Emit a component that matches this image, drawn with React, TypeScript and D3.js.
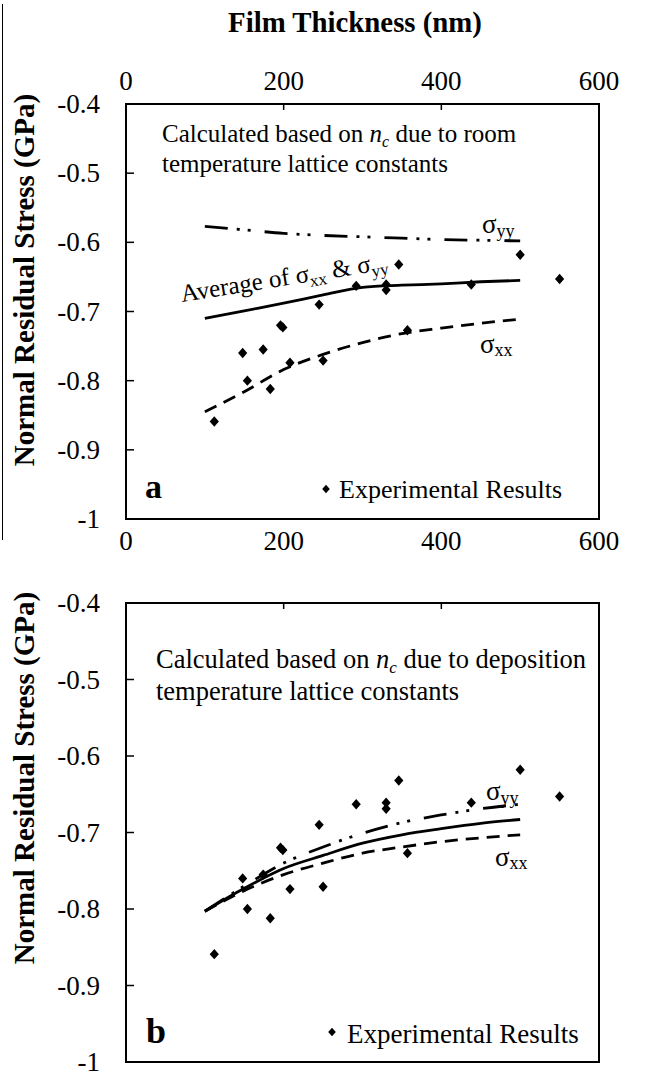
import React from 'react';
import * as d3 from 'd3';

// ---- data ----
const thicknessGrid = [100, 150, 200, 250, 300, 350, 400, 450, 500];
const roomSigmaYY = [-0.577, -0.582, -0.587, -0.59, -0.592, -0.594, -0.596, -0.597, -0.598];
const roomAverage = [-0.71, -0.699, -0.688, -0.676, -0.665, -0.662, -0.66, -0.657, -0.655];
const roomSigmaXX = [-0.845, -0.816, -0.784, -0.762, -0.745, -0.732, -0.724, -0.717, -0.711];
const depSigmaYY = [-0.803, -0.77, -0.74, -0.719, -0.701, -0.687, -0.677, -0.669, -0.663];
const depAverage = [-0.803, -0.773, -0.747, -0.73, -0.714, -0.703, -0.695, -0.688, -0.683];
const depSigmaXX = [-0.803, -0.776, -0.755, -0.74, -0.727, -0.719, -0.712, -0.707, -0.703];
const expThickness = [112, 148, 154, 174, 183, 196, 199, 208, 245, 250, 292, 330, 330, 346, 357, 438, 500, 550];
const expStress = [-0.859, -0.76, -0.8, -0.755, -0.812, -0.72, -0.723, -0.774, -0.69, -0.771, -0.663, -0.661, -0.669, -0.632, -0.727, -0.661, -0.618, -0.653];
const xTicks = [0, 200, 400, 600];
const yTicks = [-0.4, -0.5, -0.6, -0.7, -0.8, -0.9, -1];
const yTickLabels = ['-0.4', '-0.5', '-0.6', '-0.7', '-0.8', '-0.9', '-1'];

const FONT = "'Liberation Serif', 'Times New Roman', serif";
const X0 = 126;
const X1 = 599;

const diamond = (cx: number, cy: number, w: number, h: number) =>
  `M${cx},${cy - h}L${cx + w},${cy}L${cx},${cy + h}L${cx - w},${cy}Z`;

type PanelProps = {
  y0: number;
  y1: number;
  syy: number[];
  avg: number[];
  sxx: number[];
  topLabels: boolean;
  bottomLabels: boolean;
  children: (x: d3.ScaleLinear<number, number>, y: d3.ScaleLinear<number, number>) => React.ReactNode;
};

function Panel({ y0, y1, syy, avg, sxx, topLabels, bottomLabels, children }: PanelProps) {
  const x = d3.scaleLinear().domain([0, 600]).range([X0, X1]);
  const y = d3.scaleLinear().domain([-0.4, -1]).range([y0, y1]);
  const line = d3
    .line<number>()
    .x((_, i) => x(thicknessGrid[i]))
    .y((d) => y(d))
    .curve(d3.curveMonotoneX);
  return (
    <g>
      <path d={line(syy) || ''} fill="none" stroke="#000" strokeWidth={2.8} strokeDasharray="23,9,3,8,3,14" />
      <path d={line(avg) || ''} fill="none" stroke="#000" strokeWidth={2.8} />
      <path d={line(sxx) || ''} fill="none" stroke="#000" strokeWidth={2.8} strokeDasharray="13,8" />
      {expThickness.map((t, i) => (
        <path key={i} d={diamond(x(t), y(expStress[i]), 4.6, 5.2)} fill="#000" />
      ))}
      <rect x={X0} y={y0} width={X1 - X0} height={y1 - y0} fill="none" stroke="#000" strokeWidth={2} />
      {xTicks.slice(1, -1).map((t) => (
        <line key={'xt' + t} x1={x(t)} x2={x(t)} y1={y0} y2={y0 + 6} stroke="#000" strokeWidth={1.5} />
      ))}
      {yTicks.slice(1, -1).map((t) => (
        <line key={'yt' + t} x1={X0} x2={X0 + 8} y1={y(t)} y2={y(t)} stroke="#000" strokeWidth={1.5} />
      ))}
      {yTicks.map((t, i) => (
        <text key={'yl' + t} x={100} y={y(t) + 9} textAnchor="end" fontFamily={FONT} fontSize={27}>
          {yTickLabels[i]}
        </text>
      ))}
      {topLabels &&
        xTicks.map((t) => (
          <text key={'xlt' + t} x={x(t)} y={y0 - 14} textAnchor="middle" fontFamily={FONT} fontSize={27}>
            {t}
          </text>
        ))}
      {bottomLabels &&
        xTicks.map((t) => (
          <text key={'xlb' + t} x={x(t)} y={y1 + 31} textAnchor="middle" fontFamily={FONT} fontSize={27}>
            {t}
          </text>
        ))}
      {children(x, y)}
    </g>
  );
}

function Sigma({ x, y, sub, size, subSize, dy }: { x: number; y: number; sub: string; size: number; subSize: number; dy: number }) {
  return (
    <text x={x} y={y} fontFamily={FONT} fontSize={size}>
      σ
      <tspan dy={dy} fontSize={subSize}>
        {sub}
      </tspan>
    </text>
  );
}

export default function App() {
  return (
    <svg
      width={649}
      height={1076}
      viewBox="0 0 649 1076"
      style={{ position: 'absolute', left: 0, top: 0, display: 'block', background: '#fff' }}
    >
      <rect x={0} y={0} width={649} height={1076} fill="#fff" />
      <line x1={2.5} x2={2.5} y1={4} y2={540} stroke="#000" strokeWidth={1} />
      <text x={355} y={32} textAnchor="middle" fontFamily={FONT} fontSize={28.8} fontWeight="bold">
        Film Thickness (nm)
      </text>

      {/* Panel a */}
      <text transform="translate(34,280) rotate(-90)" textAnchor="middle" fontFamily={FONT} fontSize={29} fontWeight="bold">
        Normal Residual Stress (GPa)
      </text>
      <Panel y0={104} y1={519} syy={roomSigmaYY} avg={roomAverage} sxx={roomSigmaXX} topLabels={true} bottomLabels={true}>
        {() => (
          <g>
            <text x={162} y={142} fontFamily={FONT} fontSize={25}>
              Calculated based on <tspan fontStyle="italic">n</tspan>
              <tspan fontStyle="italic" fontSize={16} dy={5}>c</tspan>
              <tspan dy={-5}> due to room</tspan>
            </text>
            <text x={162} y={172} fontFamily={FONT} fontSize={25}>
              temperature lattice constants
            </text>
            <g transform="translate(182,302) rotate(-9)">
              <text x={0} y={0} fontFamily={FONT} fontSize={25}>
                Average of σ<tspan dy={5} fontSize={17}>xx</tspan>
                <tspan dy={-5}> &amp; σ</tspan>
                <tspan dy={5} fontSize={17}>yy</tspan>
              </text>
            </g>
            <Sigma x={482} y={233} sub="yy" size={27} subSize={18} dy={4} />
            <Sigma x={480} y={353} sub="xx" size={27} subSize={18} dy={3} />
            <text x={145} y={498} fontFamily={FONT} fontSize={34} fontWeight="bold">
              a
            </text>
            <path d={diamond(326, 489, 3.8, 4.2)} fill="#000" />
            <text x={339} y={498} fontFamily={FONT} fontSize={26}>
              Experimental Results
            </text>
          </g>
        )}
      </Panel>

      {/* Panel b */}
      <text transform="translate(34,778) rotate(-90)" textAnchor="middle" fontFamily={FONT} fontSize={29} fontWeight="bold">
        Normal Residual Stress (GPa)
      </text>
      <Panel y0={603} y1={1062} syy={depSigmaYY} avg={depAverage} sxx={depSigmaXX} topLabels={false} bottomLabels={false}>
        {() => (
          <g>
            <text x={156} y={668} fontFamily={FONT} fontSize={26.5}>
              Calculated based on <tspan fontStyle="italic">n</tspan>
              <tspan fontStyle="italic" fontSize={17} dy={5}>c</tspan>
              <tspan dy={-5}> due to deposition</tspan>
            </text>
            <text x={156} y={700} fontFamily={FONT} fontSize={26.5}>
              temperature lattice constants
            </text>
            <Sigma x={486} y={800} sub="yy" size={27} subSize={18} dy={4} />
            <Sigma x={495} y={866} sub="xx" size={27} subSize={18} dy={3} />
            <text x={146} y={1043} fontFamily={FONT} fontSize={36} fontWeight="bold">
              b
            </text>
            <path d={diamond(332, 1032, 3.8, 4.2)} fill="#000" />
            <text x={347} y={1043} fontFamily={FONT} fontSize={27}>
              Experimental Results
            </text>
          </g>
        )}
      </Panel>
    </svg>
  );
}
